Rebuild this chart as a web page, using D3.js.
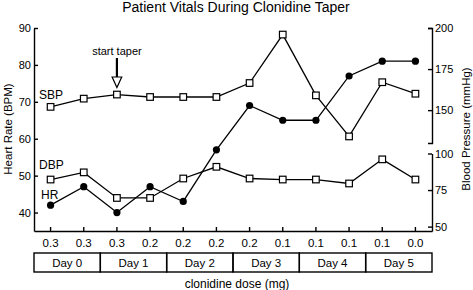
<!DOCTYPE html>
<html>
<head>
  <meta charset="utf-8">
  <title>Patient Vitals During Clonidine Taper</title>
  <script src="https://d3js.org/d3.v7.min.js" charset="utf-8"></script>
  <style>
  body {margin: 0; background: #fff;}
  svg text {font-family: "Liberation Sans", Arial, Helvetica, sans-serif; fill: #000;}
  </style>
</head>
<body>
<script>
// values
const doses = ["0.3","0.3","0.3","0.2","0.2","0.2","0.2","0.1","0.1","0.1","0.1","0.0"];
const days = ["Day 0","Day 1","Day 2","Day 3","Day 4","Day 5"];
const hr  = [42, 47, 40, 47, 43, 57, 69, 65, 65, 77, 81, 81];
const sbp = [152, 157, 159.5, 158, 158, 158, 166.5, 196, 159, 134, 167, 160];
const dbp = [82.2, 87.1, 69.6, 69.6, 82.9, 90.9, 82.9, 82.2, 82.2, 79.5, 96, 82.2];
const hrTicks = [40, 50, 60, 70, 80, 90];
const sbpTicks = [150, 175, 200];
const dbpTicks = [50, 75, 100];
const taperIndex = 2;

const width = 473, height = 290;
const margin = {left: 34, right: 432, top: 28, bottom: 231};

const svg = d3.select("body").append("svg")
  .attr("width", width)
  .attr("height", height);

const idx = d3.range(doses.length);
const x = d3.scaleBand().domain(idx).range([margin.left, margin.right]);
const cx = i => x(i) + x.bandwidth() / 2;

const yHR  = d3.scaleLinear().domain([35, 90]).range([margin.bottom, margin.top]);
const ySBP = d3.scaleLinear().domain([130, 200]).range([143, margin.top]);
const yDBP = d3.scaleLinear().domain([47, 100]).range([margin.bottom, 153.5]);

// title
svg.append("text")
  .attr("x", 236).attr("y", 12)
  .attr("text-anchor", "middle")
  .attr("font-size", "14px")
  .text("Patient Vitals During Clonidine Taper");

// axes
function styleAxis(g) {
  g.selectAll("path, line").attr("stroke", "#000").attr("stroke-width", 1.4);
  g.selectAll("text").attr("font-size", "11px").attr("fill", "#000")
    .attr("font-family", "'Liberation Sans', Arial, sans-serif");
}

svg.append("g")
  .attr("transform", `translate(${margin.left},0)`)
  .call(d3.axisLeft(yHR).tickValues(hrTicks).tickSize(-4).tickSizeOuter(0).tickPadding(3))
  .call(styleAxis);

svg.append("g")
  .attr("transform", `translate(${margin.right},0)`)
  .call(d3.axisRight(ySBP).tickValues(sbpTicks).tickSize(-4).tickSizeOuter(-4).tickPadding(3))
  .call(styleAxis);

svg.append("g")
  .attr("transform", `translate(${margin.right},0)`)
  .call(d3.axisRight(yDBP).tickValues(dbpTicks).tickSize(-4).tickSizeOuter(0).tickPadding(3))
  .call(styleAxis);

svg.append("g")
  .attr("transform", `translate(0,${margin.bottom})`)
  .call(d3.axisBottom(x).tickSize(-4).tickSizeOuter(0).tickPadding(8).tickFormat(i => doses[i]))
  .call(styleAxis)
  .selectAll("text").attr("font-size", "11.5px");

// axis titles
svg.append("text")
  .attr("transform", `translate(12,129) rotate(-90)`)
  .attr("text-anchor", "middle")
  .attr("font-size", "11.5px")
  .text("Heart Rate (BPM)");

svg.append("text")
  .attr("transform", `translate(470,129) rotate(-90)`)
  .attr("text-anchor", "middle")
  .attr("font-size", "11.5px")
  .text("Blood Pressure (mmHg)");

// day boxes
const dayG = svg.append("g");
dayG.selectAll("rect")
  .data(days)
  .join("rect")
  .attr("x", (d, i) => x(i * 2))
  .attr("y", 253)
  .attr("width", x.bandwidth() * 2)
  .attr("height", 19)
  .attr("fill", "none")
  .attr("stroke", "#000")
  .attr("stroke-width", 1.4);
dayG.selectAll("text")
  .data(days)
  .join("text")
  .attr("x", (d, i) => x(i * 2) + x.bandwidth())
  .attr("y", 267)
  .attr("text-anchor", "middle")
  .attr("font-size", "11.5px")
  .text(d => d);

svg.append("text")
  .attr("x", 237).attr("y", 288)
  .attr("text-anchor", "middle")
  .attr("font-size", "12px")
  .text("clonidine dose (mg)");

// series lines
function drawLine(vals, y) {
  svg.append("path")
    .datum(vals)
    .attr("fill", "none")
    .attr("stroke", "#000")
    .attr("stroke-width", 1.3)
    .attr("d", d3.line().x((d, i) => cx(i)).y(d => y(d)));
}
drawLine(sbp, ySBP);
drawLine(dbp, yDBP);
drawLine(hr, yHR);

function drawSquares(vals, y) {
  svg.append("g").selectAll("rect")
    .data(vals)
    .join("rect")
    .attr("x", (d, i) => cx(i) - 3.3)
    .attr("y", d => y(d) - 3.3)
    .attr("width", 6.6)
    .attr("height", 6.6)
    .attr("fill", "#fff")
    .attr("stroke", "#000")
    .attr("stroke-width", 1.2);
}
drawSquares(sbp, ySBP);
drawSquares(dbp, yDBP);

svg.append("g").selectAll("circle")
  .data(hr)
  .join("circle")
  .attr("cx", (d, i) => cx(i))
  .attr("cy", d => yHR(d))
  .attr("r", 3.6)
  .attr("fill", "#000");

// series labels
svg.append("text").attr("x", 39).attr("y", 99).attr("font-size", "12px").text("SBP");
svg.append("text").attr("x", 39).attr("y", 169).attr("font-size", "12px").text("DBP");
svg.append("text").attr("x", 41).attr("y", 199).attr("font-size", "12px").text("HR");

// start taper arrow
const ax = cx(taperIndex);
svg.append("text")
  .attr("x", ax).attr("y", 55)
  .attr("text-anchor", "middle")
  .attr("font-size", "11px")
  .text("start taper");
svg.append("line")
  .attr("x1", ax).attr("x2", ax)
  .attr("y1", 58).attr("y2", 77)
  .attr("stroke", "#000")
  .attr("stroke-width", 2.2);
svg.append("path")
  .attr("d", `M${ax - 4.8},77 L${ax + 4.8},77 L${ax},87.5 Z`)
  .attr("fill", "#fff")
  .attr("stroke", "#000")
  .attr("stroke-width", 1.2);
</script>
</body>
</html>
